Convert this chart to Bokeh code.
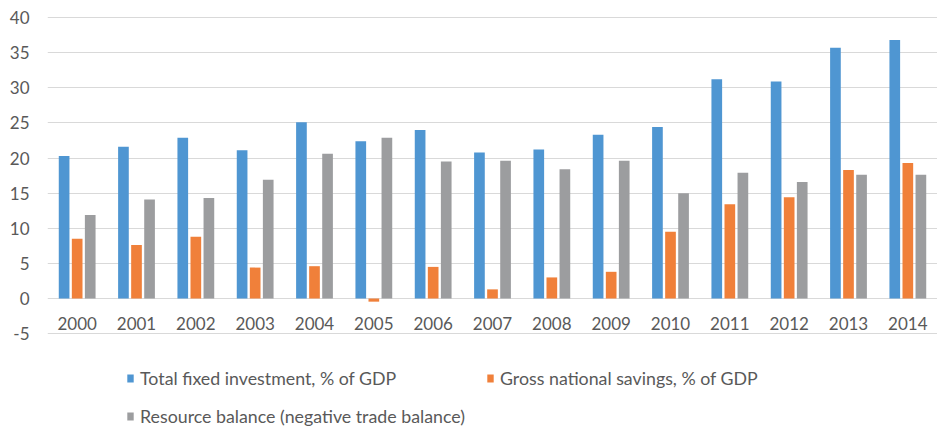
from bokeh.plotting import figure
from bokeh.models import (FactorRange, Range1d, FixedTicker, Legend, LegendItem,
                          ColumnDataSource, PrintfTickFormatter)
from bokeh.transform import dodge
from bokeh.core.properties import value
from bokeh.embed import file_html
from bokeh.resources import INLINE

years = [str(y) for y in range(2000, 2015)]
investment = [20.3, 21.6, 22.9, 21.1, 25.1, 22.4, 24.0, 20.8, 21.2, 23.3, 24.4, 31.2, 30.9, 35.7, 36.8]
savings = [8.5, 7.6, 8.8, 4.4, 4.6, -0.45, 4.5, 1.3, 3.0, 3.8, 9.5, 13.4, 14.4, 18.3, 19.3]
resource = [11.9, 14.1, 14.3, 16.9, 20.6, 22.9, 19.5, 19.6, 18.4, 19.6, 15.0, 17.9, 16.6, 17.6, 17.6]
y_ticks = [-5, 0, 5, 10, 15, 20, 25, 30, 35, 40]
series_names = [
    "Total fixed investment, % of GDP",
    "Gross national savings, % of GDP",
    "Resource balance (negative trade balance)",
]
series_keys = ["investment", "savings", "resource"]
colors = ["#4f96d2", "#f0803a", "#9c9d9f"]

FONT = "Lato"
TEXT_COLOR = "#595959"

# the frame spans the full height; the value scale places 40 at y=17px and 0 at y=298px
PX_PER_UNIT = 7.025
Y_TOP = 40 + 17 / PX_PER_UNIT
Y_BOTTOM = 0 - (427 - 298) / PX_PER_UNIT

src = ColumnDataSource(dict(years=years, investment=investment, savings=savings, resource=resource))

p = figure(
    x_range=FactorRange(*years), y_range=Range1d(Y_BOTTOM, Y_TOP),
    width=937, height=427, output_backend="svg", toolbar_location=None,
    x_axis_location=None,
    min_border_left=47, min_border_right=0, min_border_top=0, min_border_bottom=0,
)
p.outline_line_color = None
p.xgrid.visible = False
p.ygrid.ticker = FixedTicker(ticks=y_ticks)
p.ygrid.grid_line_color = "#d9d9d9"
p.ygrid.grid_line_width = 1

yax = p.yaxis[0]
yax.ticker = FixedTicker(ticks=y_ticks)
yax.formatter = PrintfTickFormatter(format="%d")
yax.axis_line_color = None
yax.major_tick_line_color = None
yax.minor_tick_line_color = None
yax.major_tick_out = 0
yax.major_tick_in = 0
yax.minor_tick_out = 0
yax.major_label_standoff = 18
yax.major_label_text_font = FONT
yax.major_label_text_font_size = "17px"
yax.major_label_text_color = TEXT_COLOR

offsets = [-0.22, 0.0, 0.22]
renderers = []
for key, off, col in zip(series_keys, offsets, colors):
    r = p.vbar(x=dodge("years", off, range=p.x_range), top=key, bottom=0, width=0.18,
               source=src, fill_color=col, line_color=None)
    renderers.append(r)

p.text(x=years, y=[0] * len(years), text=years, y_offset=18,
       text_align="center", text_baseline="top",
       text_font=value(FONT), text_font_size="17px", text_color=TEXT_COLOR)

legend = Legend(
    items=[LegendItem(label=n, renderers=[r]) for n, r in zip(series_names, renderers)],
    orientation="horizontal", ncols=2,
    location=(79, -2),
    glyph_width=8, glyph_height=10, label_standoff=6,
    label_width=334, label_height=26, spacing=12, padding=0, margin=0,
    label_text_font=FONT, label_text_font_size="17.8px", label_text_color=TEXT_COLOR,
    border_line_color=None, background_fill_alpha=0,
)
p.add_layout(legend, "center")

open("out.html", "w").write(file_html(p, INLINE))
